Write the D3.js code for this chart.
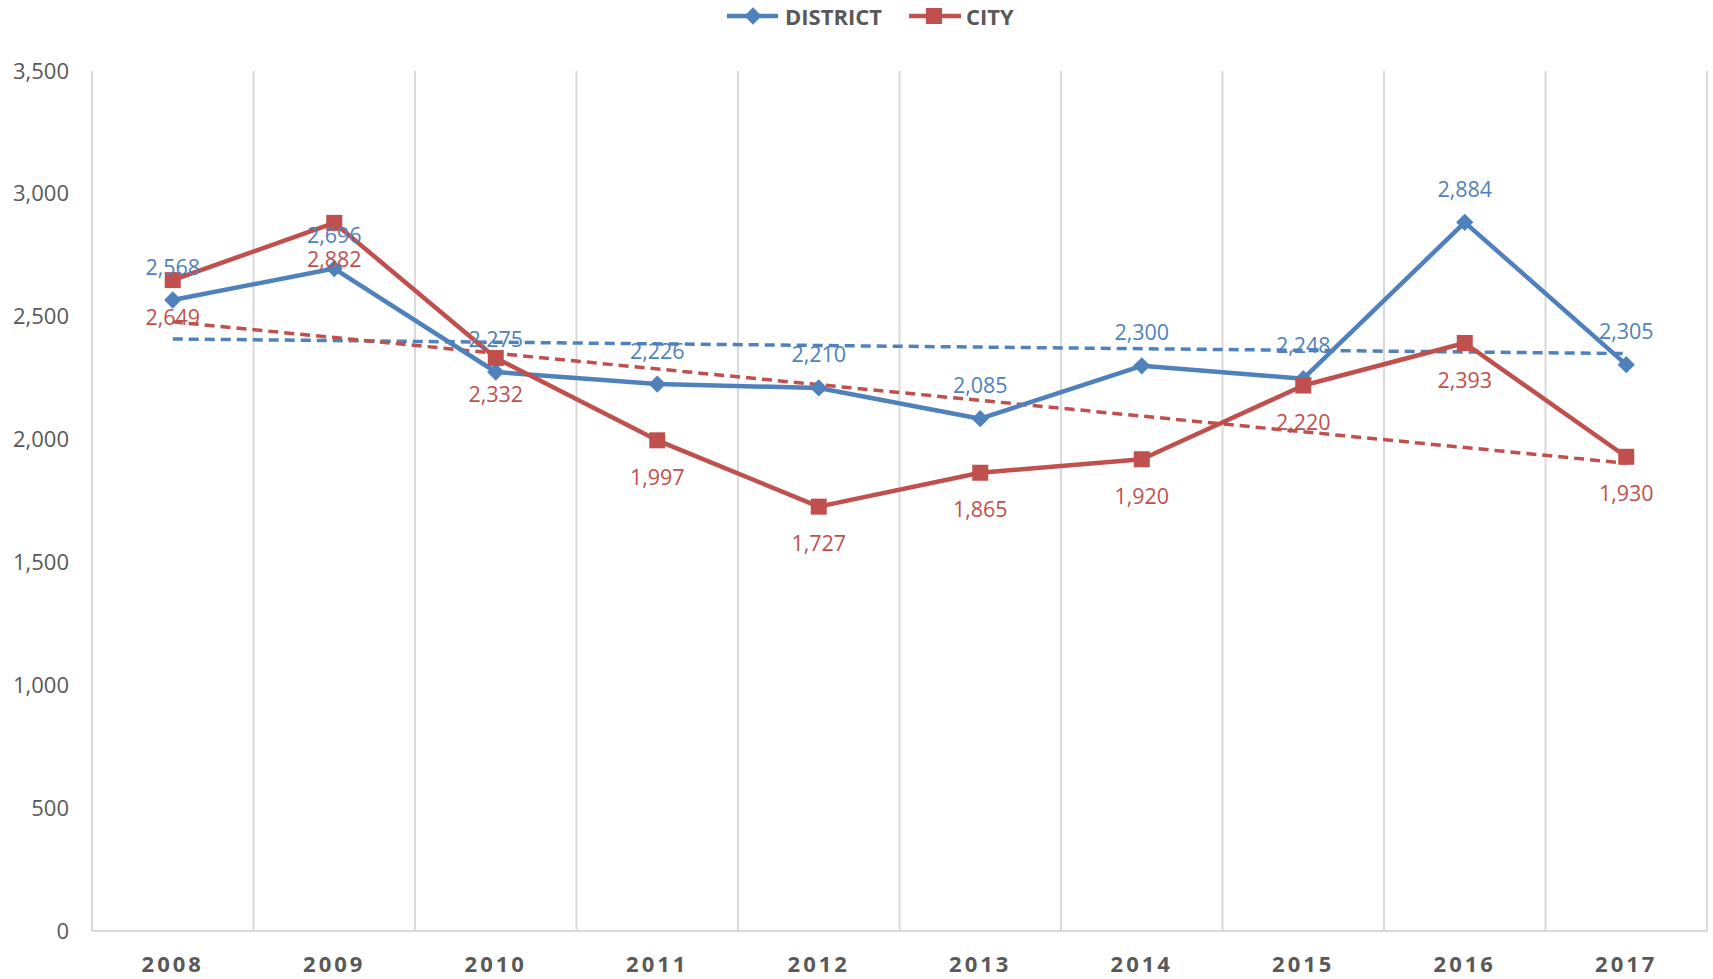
<!DOCTYPE html>
<html><head><meta charset="utf-8">
<script src="https://cdn.jsdelivr.net/npm/d3@7"></script>
<style>body{margin:0;background:#fff;}svg{display:block;}</style>
</head><body>
<svg id="chart" width="1713" height="979"></svg>
<script>
const years = ["2008","2009","2010","2011","2012","2013","2014","2015","2016","2017"];
const district = [2568,2696,2275,2226,2210,2085,2300,2248,2884,2305];
const city = [2649,2882,2332,1997,1727,1865,1920,2220,2393,1930];
const yTicks = [0,500,1000,1500,2000,2500,3000,3500];
const seriesNames = ["DISTRICT","CITY"];

const W=1713,H=979;
const m={left:92,right:6,top:71,bottom:48};
const svg=d3.select("#chart");
const x=d3.scaleBand().domain(years).range([m.left,W-m.right]).padding(0);
const y=d3.scaleLinear().domain([0,3500]).range([H-m.bottom,m.top]);
const font="'Open Sans', sans-serif";
const grey="#595959";
const blue="#4F81BD", red="#C0504D";

// vertical gridlines at band boundaries
const bounds=years.map(d=>x(d)).concat([x(years[years.length-1])+x.bandwidth()]);
svg.append("g").selectAll("line").data(bounds).join("line")
  .attr("x1",d=>d).attr("x2",d=>d).attr("y1",y(3500)).attr("y2",y(0))
  .attr("stroke","#d9d9d9").attr("stroke-width",2);
// bottom axis line
svg.append("line").attr("x1",m.left).attr("x2",W-m.right).attr("y1",y(0)).attr("y2",y(0))
  .attr("stroke","#d9d9d9").attr("stroke-width",2);

// y axis labels
const yAx=d3.axisLeft(y).tickValues(yTicks).tickFormat(d3.format(",")).tickSize(0).tickPadding(0);
const yg=svg.append("g").attr("transform",`translate(${69},0)`).call(yAx);
yg.select(".domain").remove();
yg.selectAll("text").attr("font-family",font).attr("font-size",22).attr("fill",grey);

// x axis labels
const xAx=d3.axisBottom(x).tickSize(0).tickPadding(0);
const xg=svg.append("g").attr("transform",`translate(0,${y(0)+25})`).call(xAx);
xg.select(".domain").remove();
xg.selectAll("text").attr("font-family",font).attr("font-size",22).attr("font-weight","bold")
  .attr("letter-spacing","3px").attr("fill",grey);

const cx=d=>x(d)+x.bandwidth()/2;

function trend(vals){
  const n=vals.length, xs=vals.map((v,i)=>i);
  const mx=d3.mean(xs), my=d3.mean(vals);
  let sxy=0,sxx=0; xs.forEach((xi,i)=>{sxy+=(xi-mx)*(vals[i]-my);sxx+=(xi-mx)*(xi-mx);});
  const b=sxy/sxx, a=my-b*mx;
  return [a, a+b*(n-1)];
}
const line=d3.line().x((d,i)=>cx(years[i])).y(d=>y(d));

function drawTrend(vals,color){
  const t=trend(vals);
  svg.append("line").attr("x1",cx(years[0])).attr("x2",cx(years[years.length-1]))
    .attr("y1",y(t[0])).attr("y2",y(t[1])).attr("stroke",color).attr("stroke-width",3.5)
    .attr("stroke-dasharray","10,6");
}
drawTrend(district,blue);
drawTrend(city,red);

// district line
svg.append("path").datum(district).attr("d",line).attr("fill","none").attr("stroke",blue)
  .attr("stroke-width",4.5).attr("stroke-linejoin","round");
// city line
svg.append("path").datum(city).attr("d",line).attr("fill","none").attr("stroke",red)
  .attr("stroke-width",4.5).attr("stroke-linejoin","round");

// markers
const diamond=d3.symbol().type(d3.symbolDiamond2).size(190);
svg.append("g").selectAll("path").data(district).join("path")
  .attr("d",diamond).attr("transform",(d,i)=>`translate(${cx(years[i])},${y(d)})`).attr("fill",blue);
svg.append("g").selectAll("rect").data(city).join("rect")
  .attr("x",(d,i)=>cx(years[i])-8).attr("y",d=>y(d)-8).attr("width",16).attr("height",16).attr("fill",red);

// data labels
svg.append("g").selectAll("text").data(district).join("text")
  .attr("x",(d,i)=>cx(years[i])).attr("y",d=>y(d)-34).attr("text-anchor","middle")
  .attr("dominant-baseline","central").attr("font-family",font).attr("font-size",21.5)
  .attr("fill",blue).text(d=>d3.format(",")(d));
svg.append("g").selectAll("text").data(city).join("text")
  .attr("x",(d,i)=>cx(years[i])).attr("y",d=>y(d)+36).attr("text-anchor","middle")
  .attr("dominant-baseline","central").attr("font-family",font).attr("font-size",21.5)
  .attr("fill",red).text(d=>d3.format(",")(d));

// legend
const lg=svg.append("g");
const legY=16;
// District
lg.append("line").attr("x1",727).attr("x2",778).attr("y1",legY).attr("y2",legY).attr("stroke",blue).attr("stroke-width",4.5);
lg.append("path").attr("d",diamond).attr("transform",`translate(753,${legY})`).attr("fill",blue);
lg.append("text").attr("x",785).attr("y",legY).attr("dominant-baseline","central")
  .attr("font-family",font).attr("font-size",22).attr("font-weight","bold").attr("fill",grey).text(seriesNames[0]);
// City
lg.append("line").attr("x1",909).attr("x2",961).attr("y1",legY).attr("y2",legY).attr("stroke",red).attr("stroke-width",4.5);
lg.append("rect").attr("x",926).attr("y",legY-8).attr("width",16).attr("height",16).attr("fill",red);
lg.append("text").attr("x",966).attr("y",legY).attr("dominant-baseline","central")
  .attr("font-family",font).attr("font-size",22).attr("font-weight","bold").attr("fill",grey).text(seriesNames[1]);
</script>
</body></html>
